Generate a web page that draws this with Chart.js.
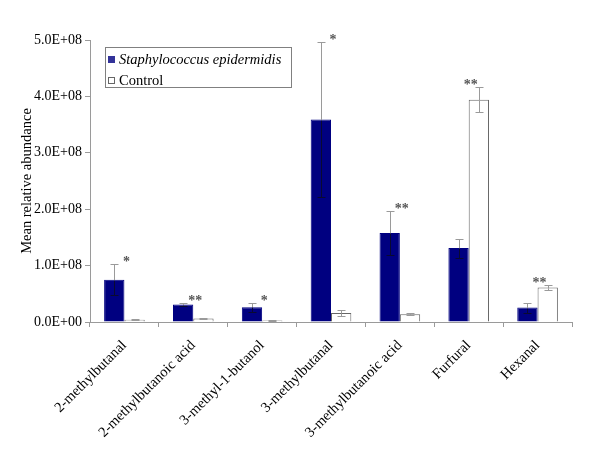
<!DOCTYPE html>
<html><head><meta charset="utf-8">
<script src="https://cdn.jsdelivr.net/npm/chart.js@4/dist/chart.umd.min.js"></script>
<style>html,body{margin:0;padding:0;background:#fff}#wrap{width:600px;height:450px}</style>
</head><body><div id="wrap"><canvas id="c" width="600" height="450"></canvas></div>
<script>
const categories = ['2-methylbutanal','2-methylbutanoic acid','3-methyl-1-butanol','3-methylbutanal','3-methylbutanoic acid','Furfural','Hexanal'];
const seriesNames = ['Staphylococcus epidermidis','Control'];
const staphValues = [0.75e8, 0.31e8, 0.26e8, 3.59e8, 1.58e8, 1.31e8, 0.255e8];
const staphErrors = [0.28e8, 0.03e8, 0.08e8, 1.37e8, 0.39e8, 0.17e8, 0.09e8];
const controlValues = [0.04e8, 0.06e8, 0.025e8, 0.16e8, 0.136e8, 3.94e8, 0.61e8];
const controlErrors = [0.01e8, 0.015e8, 0.005e8, 0.06e8, 0.02e8, 0.22e8, 0.05e8];
const significance = ['*','**','*','*','**','**','**'];
const yTickLabels = ['0.0E+00','1.0E+08','2.0E+08','3.0E+08','4.0E+08','5.0E+08'];

const SERIF = "'Liberation Serif','Times New Roman',serif";
const AXIS = '#9a9a9a';

const errorBarPlugin = {
  id: 'errorBars',
  afterDatasetsDraw(chart) {
    const ctx = chart.ctx, y = chart.scales.y;
    const errs = [staphErrors, controlErrors];
    const insideColors = ['#0a0a30', '#9a9a9a'];
    ctx.save();
    ctx.lineWidth = 1;
    const tops = [];
    chart.data.datasets.forEach((ds, di) => {
      const meta = chart.getDatasetMeta(di);
      meta.data.forEach((bar, i) => {
        const v = ds.data[i], e = errs[di][i];
        const yt = Math.round(y.getPixelForValue(v + e)) + 0.5;
        const yb = Math.round(y.getPixelForValue(Math.max(0, v - e))) + 0.5;
        const yv = Math.round(y.getPixelForValue(v)) + 0.5;
        const x = Math.round(bar.x) + 0.5;
        // part above the bar
        ctx.strokeStyle = '#9a9a9a';
        ctx.beginPath();
        ctx.moveTo(x, yt); ctx.lineTo(x, yv);
        ctx.moveTo(x - 4, yt); ctx.lineTo(x + 4, yt);
        ctx.stroke();
        // part inside the bar
        ctx.strokeStyle = insideColors[di];
        ctx.beginPath();
        ctx.moveTo(x, yv); ctx.lineTo(x, yb);
        ctx.moveTo(x - 4, yb); ctx.lineTo(x + 4, yb);
        ctx.stroke();
        tops[i] = Math.min(tops[i] === undefined ? 1e9 : tops[i], yt);
      });
    });
    // significance markers
    const xs = chart.scales.x;
    ctx.fillStyle = '#555';
    ctx.font = "bold 14px " + SERIF;
    ctx.textAlign = 'center';
    ctx.textBaseline = 'alphabetic';
    significance.forEach((s, i) => {
      const cx = xs.getPixelForValue(i) + 2;
      const cy = tops[i] - 6;
      ctx.fillText(s, cx, cy + 7);
    });
    ctx.restore();
  }
};

const legendPlugin = {
  id: 'boxLegend',
  afterDraw(chart) {
    const ctx = chart.ctx, a = chart.chartArea;
    const x0 = a.left + 15, y0 = a.top + 7;
    const w = 186, h = 40;
    ctx.save();
    ctx.fillStyle = '#fff';
    ctx.fillRect(x0, y0, w, h);
    ctx.strokeStyle = '#808080';
    ctx.lineWidth = 1;
    ctx.strokeRect(Math.round(x0) + 0.5, Math.round(y0) + 0.5, w, h);
    const rows = [
      {label: seriesNames[0], fill: '#333399', stroke: '#333399', italic: true},
      {label: seriesNames[1], fill: '#fff', stroke: '#666', italic: false}
    ];
    rows.forEach((r, k) => {
      const cy = y0 + 12.5 + k * 21;
      ctx.fillStyle = r.fill;
      ctx.fillRect(x0 + 3, cy - 3.5, 7, 7);
      ctx.strokeStyle = r.stroke;
      ctx.strokeRect(x0 + 3.5, cy - 3, 6, 6);
      ctx.fillStyle = '#000';
      ctx.font = (r.italic ? 'italic ' : '') + "14.5px " + SERIF;
      ctx.textAlign = 'left';
      ctx.textBaseline = 'middle';
      ctx.fillText(r.label, x0 + 14, cy + 1);
    });
    ctx.restore();
  }
};

new Chart(document.getElementById('c'), {
  type: 'bar',
  data: {
    labels: categories,
    datasets: [
      {label: seriesNames[0], data: staphValues, backgroundColor: '#000080', borderColor: '#000080', borderWidth: 1},
      {label: seriesNames[1], data: controlValues, backgroundColor: '#ffffff', borderColor: '#666666', borderWidth: 1}
    ]
  },
  options: {
    responsive: false,
    animation: false,
    devicePixelRatio: 1,
    layout: {padding: {top: 40, right: 28, left: 14, bottom: 0}},
    datasets: {bar: {categoryPercentage: 0.59, barPercentage: 1.0}},
    plugins: {legend: {display: false}, tooltip: {enabled: false}, title: {display: false}},
    scales: {
      x: {
        grid: {display: true, drawOnChartArea: false, offset: true, tickLength: 5, color: AXIS},
        border: {color: AXIS},
        ticks: {color: '#000', font: {family: SERIF, size: 14.5}, maxRotation: 45, minRotation: 45, padding: 10, autoSkip: false},
        afterFit: s => { s.height = 128; }
      },
      y: {
        min: 0, max: 5e8,
        grid: {display: true, drawOnChartArea: false, tickLength: 5, color: AXIS},
        border: {color: AXIS},
        ticks: {stepSize: 1e8, color: '#000', font: {family: SERIF, size: 14}, padding: 3,
          callback: v => yTickLabels[Math.round(v / 1e8)]},
        title: {display: true, text: 'Mean relative abundance', color: '#000', font: {family: SERIF, size: 14.5}, padding: 4},
        afterFit: s => { s.width = 76; }
      }
    }
  },
  plugins: [errorBarPlugin, legendPlugin]
});
</script>
</body></html>
